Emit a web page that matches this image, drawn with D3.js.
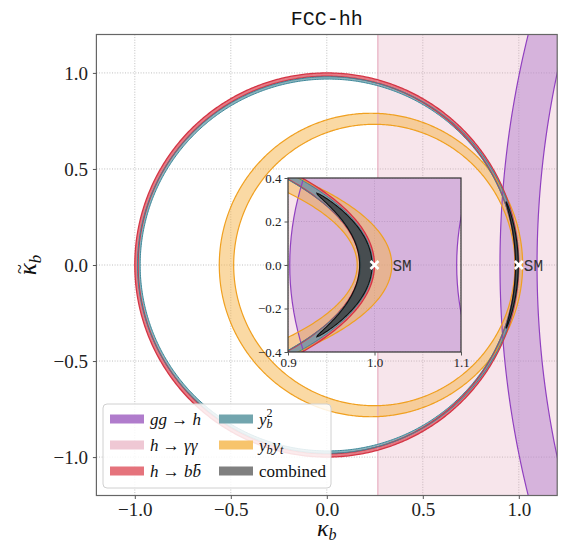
<!DOCTYPE html>
<html><head><meta charset="utf-8">
<script src="https://cdn.jsdelivr.net/npm/d3@7"></script>
<style>
body{margin:0;background:#fff}svg{display:block}
.sf{font-family:"Liberation Serif","DejaVu Serif","Noto Serif","Times New Roman",serif}
.mf{font-family:"Liberation Mono","DejaVu Sans Mono","Courier New",monospace}
</style>
</head><body>
<script>
// ---------------- data ----------------
const xTicks = [-1.0, -0.5, 0.0, 0.5, 1.0];
const yTicks = [-1.0, -0.5, 0.0, 0.5, 1.0];
const insetXTicks = [0.9, 1.0, 1.1];
const insetYTicks = [-0.4, -0.2, 0.0, 0.2, 0.4];
const mainDomain = [-1.2, 1.2];
const insetXDomain = [0.9, 1.1];
const insetYDomain = [-0.4, 0.4];
// contour ellipses: [centre x, centre y, radius x, radius y]
const ggOuter = [5.87, 0, 4.968, 4.968];
const ggInner = [5.905, 0, 4.81, 4.81];
const aaRange = [0.266, 1.6];
const bbOuter = [0, 0, 1.0, 1.0];
const bbInner = [0, 0, 0.983, 0.983];
const yb2Outer = [0.006, 0, 0.992, 0.980];
const yb2Inner = [0.006, 0, 0.978, 0.968];
const ybytOuter = [0.23, 0, 0.79, 0.79];
const ybytInner = [0.2475, 0, 0.7325, 0.7325];
const combinedArc = [0.99, 0.0072];   // mid radius, half width
const combinedYMax = 0.33;
const smPoint = [1.0, 0.0];
const seriesNames = ["gg→h", "h→γγ", "h→bb", "yb2", "ybyt", "combined"];
const seriesColors = ["#b07ccc", "#efc8d4", "#e5737c", "#72a5ae", "#f7c46c", "#808080"];

// ---------------- layout ----------------
const W = 566, H = 547;
const M = {x0: 96.4, x1: 557.2, y0: 34.5, y1: 495.5};
const I = {x0: 288, x1: 461, y0: 178, y1: 352};
const fmt = v => d3.format(".1f")(v).replace("-", "\u2212");

const svg = d3.select("body").append("svg").attr("width", W).attr("height", H);
const defs = svg.append("defs");

function ellPts(e, n) {
  n = n || 720;
  return d3.range(n).map(i => {
    const t = 2 * Math.PI * i / n;
    return [e[0] + e[2] * Math.cos(t), e[1] + e[3] * Math.sin(t)];
  });
}
function crescentPts() {
  const tm = Math.asin(combinedYMax / combinedArc[0]), N = 120;
  const out = [], inn = [];
  for (let i = 0; i <= N; i++) {
    const t = -tm + 2 * tm * i / N;
    const w = combinedArc[1] * Math.sqrt(Math.max(0, 1 - (t / tm) * (t / tm)));
    out.push([(combinedArc[0] + w) * Math.cos(t), (combinedArc[0] + w) * Math.sin(t)]);
    inn.push([(combinedArc[0] - w) * Math.cos(t), (combinedArc[0] - w) * Math.sin(t)]);
  }
  return out.concat(inn.reverse());
}

function panel(sx, sy, box, id, opts) {
  const line = d3.line().x(d => sx(d[0])).y(d => sy(d[1])).curve(d3.curveLinearClosed);
  const ring = (o, i) => line(ellPts(o)) + line(ellPts(i));
  defs.append("clipPath").attr("id", id + "box").append("rect")
    .attr("x", box.x0).attr("y", box.y0).attr("width", box.x1 - box.x0).attr("height", box.y1 - box.y0);
  const g = svg.append("g");
  g.append("rect").attr("x", box.x0).attr("y", box.y0).attr("width", box.x1 - box.x0)
    .attr("height", box.y1 - box.y0).attr("fill", "#fff");
  const gg = g.append("g").attr("clip-path", `url(#${id}box)`);
  opts.xt.forEach(v => gg.append("line").attr("x1", sx(v)).attr("x2", sx(v)).attr("y1", box.y0).attr("y2", box.y1)
    .attr("stroke", "#b0b0b0").attr("stroke-width", 0.8).attr("stroke-dasharray", "1,1.6"));
  opts.yt.forEach(v => gg.append("line").attr("y1", sy(v)).attr("y2", sy(v)).attr("x1", box.x0).attr("x2", box.x1)
    .attr("stroke", "#b0b0b0").attr("stroke-width", 0.8).attr("stroke-dasharray", "1,1.6"));

  const c = g.append("g").attr("clip-path", `url(#${id}box)`);
  c.append("rect").attr("x", sx(aaRange[0])).attr("y", box.y0 - 5)
    .attr("width", sx(aaRange[1]) - sx(aaRange[0])).attr("height", box.y1 - box.y0 + 10)
    .attr("fill", "#e4a0b8").attr("fill-opacity", 0.28);
  c.append("path").attr("d", ring(ggOuter, ggInner)).attr("fill-rule", "evenodd")
    .attr("fill", "#b07ccc").attr("fill-opacity", 0.47);
  c.append("path").attr("d", ring(ybytOuter, ybytInner)).attr("fill-rule", "evenodd")
    .attr("fill", "#f5b44a").attr("fill-opacity", 0.5);
  c.append("path").attr("d", ring(bbOuter, bbInner)).attr("fill-rule", "evenodd")
    .attr("fill", "#e06470").attr("fill-opacity", 0.85);
  c.append("path").attr("d", ring(yb2Outer, yb2Inner)).attr("fill-rule", "evenodd")
    .attr("fill", "#6fa3ae").attr("fill-opacity", 0.8);
  const edge = (e, col, w) => c.append("path").attr("d", line(ellPts(e))).attr("fill", "none")
    .attr("stroke", col).attr("stroke-width", w);
  c.append("line").attr("x1", sx(aaRange[0])).attr("x2", sx(aaRange[0])).attr("y1", box.y0).attr("y2", box.y1)
    .attr("stroke", "#e3a1b8").attr("stroke-width", 1);
  edge(ggOuter, "#9040c0", 1.2); edge(ggInner, "#9040c0", 1.2);
  edge(ybytOuter, "#f0a020", 1.2); edge(ybytInner, "#f0a020", 1.2);
  edge(bbOuter, "#d43545", 1.3); edge(bbInner, "#d43545", 1.3);
  edge(yb2Outer, "#3d8799", 1.0); edge(yb2Inner, "#3d8799", 1.0);
  // combined
  c.append("path").attr("d", line(crescentPts()))
    .attr("fill", "#2a2a2a").attr("fill-opacity", 0.68).attr("stroke", "#111").attr("stroke-width", 1.1);
  // SM marker
  const mx = sx(smPoint[0]), my = sy(smPoint[1]), s = 4;
  c.append("path").attr("d", `M${mx - s},${my - s}L${mx + s},${my + s}M${mx - s},${my + s}L${mx + s},${my - s}`)
    .attr("stroke", "#fff").attr("stroke-width", 2.6);
  g.append("text").attr("class", "mf").attr("x", mx + opts.smdx).attr("y", my + 5.5).text("SM")
    .attr("font-size", 16).attr("fill", "#333");
  g.append("rect").attr("x", box.x0).attr("y", box.y0).attr("width", box.x1 - box.x0)
    .attr("height", box.y1 - box.y0).attr("fill", "none").attr("stroke", opts.frame).attr("stroke-width", 1.2);
  const ax = g.append("g").attr("transform", `translate(0,${box.y1})`)
    .call(d3.axisBottom(sx).tickValues(opts.xt).tickFormat(fmt).tickSize(3.5).tickPadding(opts.pad));
  const ay = g.append("g").attr("transform", `translate(${box.x0},0)`)
    .call(d3.axisLeft(sy).tickValues(opts.yt).tickFormat(fmt).tickSize(3.5).tickPadding(opts.pad + 1));
  [ax, ay].forEach(a => {
    a.attr("font-family", null);
    a.select(".domain").remove();
    a.selectAll("line").attr("stroke", "#555");
    a.selectAll("text").attr("class", "sf").attr("font-size", opts.fs).attr("fill", "#222");
  });
}

const sx = d3.scaleLinear().domain(mainDomain).range([M.x0, M.x1]);
const sy = d3.scaleLinear().domain(mainDomain).range([M.y1, M.y0]);
panel(sx, sy, M, "m", {xt: xTicks, yt: yTicks, smdx: 5, frame: "#666", pad: 4, fs: 19});

const ix = d3.scaleLinear().domain(insetXDomain).range([I.x0, I.x1]);
const iy = d3.scaleLinear().domain(insetYDomain).range([I.y1, I.y0]);
panel(ix, iy, I, "i", {xt: insetXTicks, yt: insetYTicks, smdx: 18, frame: "#333", pad: 2, fs: 13});

// title & axis labels
svg.append("text").attr("class", "mf").attr("x", (M.x0 + M.x1) / 2).attr("y", 25).attr("text-anchor", "middle")
  .attr("font-size", 20).attr("fill", "#111").text("FCC-hh");
const xl = svg.append("text").attr("class", "sf").attr("x", (M.x0 + M.x1) / 2).attr("y", 536).attr("text-anchor", "middle")
  .attr("font-size", 24).attr("fill", "#111");
xl.append("tspan").attr("font-style", "italic").text("\u03ba");
xl.append("tspan").attr("font-style", "italic").attr("font-size", 16).attr("dy", 4).text("b");
const yg = svg.append("g").attr("transform", `translate(36,${(M.y0 + M.y1) / 2}) rotate(-90)`);
const yl = yg.append("text").attr("class", "sf").attr("text-anchor", "middle").attr("font-size", 25).attr("fill", "#111");
yl.append("tspan").attr("font-style", "italic").text("\u03ba");
yl.append("tspan").attr("font-style", "italic").attr("font-size", 17).attr("dy", 5).text("b");
yg.append("text").attr("class", "sf").attr("x", -4).attr("y", -10).attr("text-anchor", "middle")
  .attr("font-size", 18).attr("fill", "#111").text("~");

// legend
const L = svg.append("g");
L.append("rect").attr("x", 103).attr("y", 404).attr("width", 228).attr("height", 84).attr("rx", 4)
  .attr("fill", "#fff").attr("fill-opacity", 0.85).attr("stroke", "#d0d0d0").attr("stroke-width", 1);
const rowsY = [419, 445, 471];
const colX = [110, 219];
seriesColors.forEach((col, k) => {
  const cx = colX[Math.floor(k / 3)], cy = rowsY[k % 3];
  L.append("rect").attr("x", cx).attr("y", cy - 4.5).attr("width", 34).attr("height", 9).attr("fill", col);
});
function ltext(x, y) {
  return L.append("text").attr("class", "sf").attr("x", x).attr("y", y).attr("font-size", 17).attr("fill", "#111");
}
let t;
t = ltext(150, rowsY[0] + 6);
t.append("tspan").attr("font-style", "italic").text("gg");
t.append("tspan").text(" \u2192 ");
t.append("tspan").attr("font-style", "italic").text("h");
t = ltext(150, rowsY[1] + 6);
t.append("tspan").attr("font-style", "italic").text("h");
t.append("tspan").text(" \u2192 ");
t.append("tspan").attr("font-style", "italic").text("\u03b3\u03b3");
t = ltext(150, rowsY[2] + 6);
t.append("tspan").attr("font-style", "italic").text("h");
t.append("tspan").text(" \u2192 ");
t.append("tspan").attr("font-style", "italic").text("b");
t.append("tspan").attr("font-style", "italic").text("b\u0304");
t = ltext(259, rowsY[0] + 6).attr("font-style", "italic");
t.append("tspan").text("y");
t.append("tspan").attr("font-size", 12).attr("dy", 3).text("b");
t.append("tspan").attr("font-size", 12).attr("font-style", "normal").attr("dx", -6).attr("dy", -11).text("2");
t = ltext(259, rowsY[1] + 6).attr("font-style", "italic");
t.append("tspan").text("y");
t.append("tspan").attr("font-size", 12).attr("dy", 3).text("b");
t.append("tspan").attr("dy", -3).text("y");
t.append("tspan").attr("font-size", 12).attr("dy", 3).text("t");
ltext(259, rowsY[2] + 6).text("combined");
</script>
</body></html>
